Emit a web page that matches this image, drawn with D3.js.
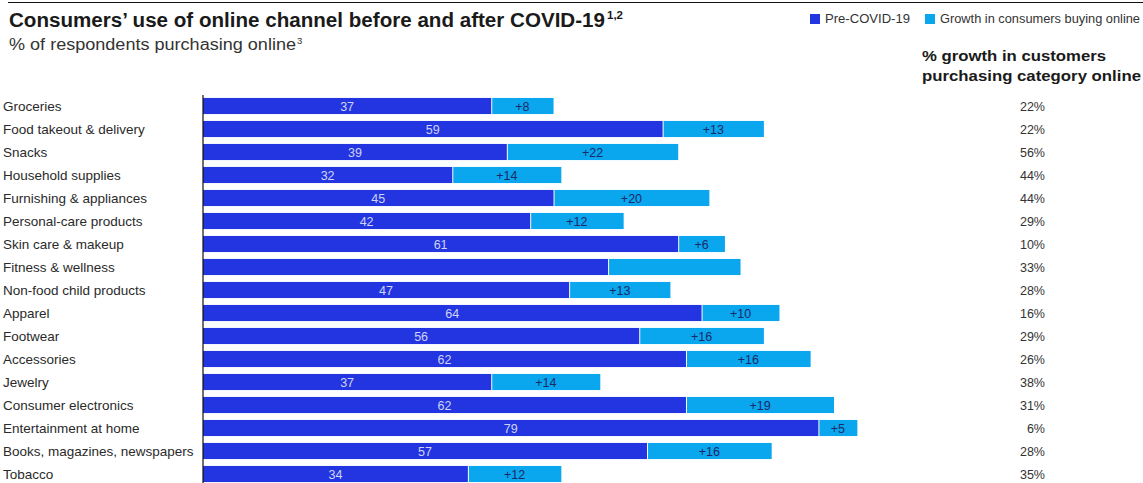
<!DOCTYPE html>
<html>
<head>
<meta charset="utf-8">
<script src="https://cdn.jsdelivr.net/npm/d3@7"></script>
<style>
  body { margin: 0; background: #fff; }
  svg { display: block; font-family: "Liberation Sans", Arial, sans-serif; }
</style>
</head>
<body>
<svg id="chart" width="1143" height="483"></svg>
<script>
// Categories, top to bottom
const categories = [
  "Groceries", "Food takeout & delivery", "Snacks", "Household supplies",
  "Furnishing & appliances", "Personal-care products", "Skin care & makeup",
  "Fitness & wellness", "Non-food child products", "Apparel", "Footwear",
  "Accessories", "Jewelry", "Consumer electronics", "Entertainment at home",
  "Books, magazines, newspapers", "Tobacco"
];
// % of respondents purchasing online before COVID-19
const preCovid = [37, 59, 39, 32, 45, 42, 61, 52, 47, 64, 56, 62, 37, 62, 79, 57, 34];
// Percentage-point growth in consumers buying online
const growth = [8, 13, 22, 14, 20, 12, 6, 17, 13, 10, 16, 16, 14, 19, 5, 16, 12];
// % growth in customers purchasing the category online
const growthPct = ["22%", "22%", "56%", "44%", "44%", "29%", "10%", "33%", "28%", "16%", "29%", "26%", "38%", "31%", "6%", "28%", "35%"];
// Rows whose bar values are not printed
const unlabeled = ["Fitness & wellness"];

const colPre = "#2335e0";
const colGrowth = "#0aa6ee";

const svg = d3.select("#chart");

// Top rule
svg.append("line").attr("x1", 8).attr("x2", 1143).attr("y1", 2.5).attr("y2", 2.5)
  .attr("stroke", "#111").attr("stroke-width", 1.2);

// Titles
svg.append("text").attr("x", 9).attr("y", 27).attr("font-size", 19.5).attr("font-weight", "bold")
  .attr("fill", "#1a1a1a").attr("textLength", 596).attr("lengthAdjust", "spacingAndGlyphs")
  .text("Consumers\u2019 use of online channel before and after COVID-19");
svg.append("text").attr("x", 607).attr("y", 19).attr("font-size", 11.5).attr("font-weight", "bold")
  .attr("fill", "#1a1a1a").text("1,2");
svg.append("text").attr("x", 9).attr("y", 50).attr("font-size", 16).attr("fill", "#333")
  .attr("textLength", 287).attr("lengthAdjust", "spacingAndGlyphs")
  .text("% of respondents purchasing online");
svg.append("text").attr("x", 297).attr("y", 44).attr("font-size", 9.5).attr("fill", "#333").text("3");

// Legend
const legend = [
  { label: "Pre-COVID-19", color: colPre, x: 810, w: 85 },
  { label: "Growth in consumers buying online", color: colGrowth, x: 925, w: 200 }
];
const lg = svg.append("g").selectAll("g").data(legend).join("g");
lg.append("rect").attr("x", d => d.x).attr("y", 14).attr("width", 10).attr("height", 10).attr("fill", d => d.color);
lg.append("text").attr("x", d => d.x + 15).attr("y", 23).attr("font-size", 12).attr("fill", "#333")
  .attr("textLength", d => d.w).attr("lengthAdjust", "spacingAndGlyphs").text(d => d.label);

// Right column header
svg.append("text").attr("x", 922).attr("y", 61).attr("font-size", 15.5).attr("font-weight", "bold")
  .attr("fill", "#1a1a1a").attr("textLength", 184).attr("lengthAdjust", "spacingAndGlyphs")
  .text("% growth in customers");
svg.append("text").attr("x", 922).attr("y", 81).attr("font-size", 15.5).attr("font-weight", "bold")
  .attr("fill", "#1a1a1a").attr("textLength", 219).attr("lengthAdjust", "spacingAndGlyphs")
  .text("purchasing category online");

// Scales
const x = d3.scaleLinear().domain([0, 100]).range([203, 982]);
const y = d3.scaleBand().domain(categories).range([94.5, 485.5]).paddingInner(0.3).paddingOuter(0.15);

const rows = categories.map((c, i) => ({ cat: c, pre: preCovid[i], g: growth[i], pct: growthPct[i] }));

const g = svg.append("g");
// Pre-COVID bars
g.selectAll("rect.pre").data(rows).join("rect").attr("class", "pre")
  .attr("x", x(0)).attr("y", d => y(d.cat))
  .attr("width", d => x(d.pre) - x(0)).attr("height", y.bandwidth())
  .attr("fill", colPre);
// Growth bars
g.selectAll("rect.gr").data(rows).join("rect").attr("class", "gr")
  .attr("x", d => x(d.pre) + 1).attr("y", d => y(d.cat))
  .attr("width", d => x(d.pre + d.g) - x(d.pre) - 1).attr("height", y.bandwidth())
  .attr("fill", colGrowth);

const labeled = rows.filter(d => !unlabeled.includes(d.cat));
g.selectAll("text.pre").data(labeled).join("text")
  .attr("x", d => (x(0) + x(d.pre)) / 2).attr("y", d => y(d.cat) + y.bandwidth() / 2 + 4.5)
  .attr("text-anchor", "middle").attr("font-size", 12.5).attr("fill", "#cfd3f5")
  .text(d => d.pre);
g.selectAll("text.gr").data(labeled).join("text")
  .attr("x", d => (x(d.pre) + x(d.pre + d.g)) / 2).attr("y", d => y(d.cat) + y.bandwidth() / 2 + 4.5)
  .attr("text-anchor", "middle").attr("font-size", 12.5).attr("fill", "#1b2a66")
  .text(d => "+" + d.g);

// Category axis line
svg.append("line").attr("x1", x(0)).attr("x2", x(0)).attr("y1", 95).attr("y2", 483)
  .attr("stroke", "#111").attr("stroke-width", 1.2);

svg.append("g").selectAll("text").data(rows).join("text")
  .attr("x", 3).attr("y", d => y(d.cat) + y.bandwidth() / 2 + 4.5)
  .attr("font-size", 13.5).attr("fill", "#2a2a2a").text(d => d.cat);

// Right column values
svg.append("g").selectAll("text").data(rows).join("text")
  .attr("x", 1045).attr("y", d => y(d.cat) + y.bandwidth() / 2 + 5)
  .attr("text-anchor", "end").attr("font-size", 12.5).attr("fill", "#333").text(d => d.pct);
</script>
</body>
</html>
